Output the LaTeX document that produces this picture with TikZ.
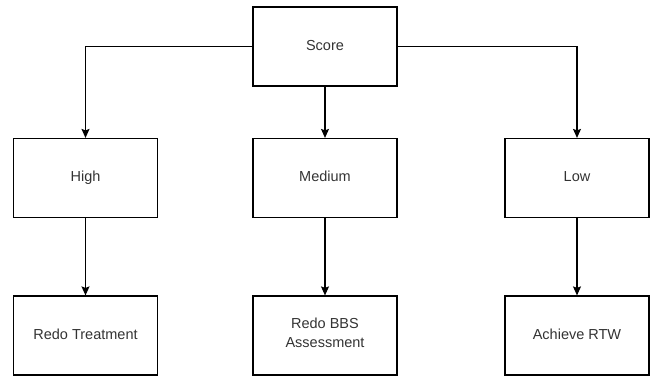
\documentclass[tikz,border=0pt]{standalone}
\usepackage{fontspec}
\setmainfont{Liberation Sans}
\usepackage{tikz}
\usetikzlibrary{arrows.meta}
\definecolor{scoretext}{RGB}{51,51,51}

\tikzset{
    scorebox/.style={draw, line width=1.2pt, minimum width=144pt, minimum height=79pt,
        align=center, text=scoretext, font=\fontsize{14.5}{18.5}\selectfont, inner sep=2pt,
        execute at begin node=\strut, execute at end node=\strut},
    scorearrow/.style={line width=1.1pt, -{Stealth[length=9pt,width=8pt,inset=1.5pt]}}
}

\begin{document}
\begin{tikzpicture}[x=1pt, y=-1pt]
    \useasboundingbox (0,0) rectangle (650,376);

    % Score
    \node[scorebox] (score) at (325,46.5) {Score};

    % Categories
    \node[scorebox] (high) at (85.5,178) {High};
    \node[scorebox] (medium) at (325,178) {Medium};
    \node[scorebox] (low) at (577,178) {Low};

    % Outcomes
    \node[scorebox] (redotreat) at (85.5,335.5) {Redo Treatment};
    \node[scorebox] (redobbs) at (325,335.5) {Redo BBS\\Assessment};
    \node[scorebox] (rtw) at (577,335.5) {Achieve RTW};

    % Connectors
    \draw[scorearrow] (score) -| (high);
    \draw[scorearrow] (score) -- (medium);
    \draw[scorearrow] (score) -| (low);
    \draw[scorearrow] (high) -- (redotreat);
    \draw[scorearrow] (medium) -- (redobbs);
    \draw[scorearrow] (low) -- (rtw);
\end{tikzpicture}
\end{document}
